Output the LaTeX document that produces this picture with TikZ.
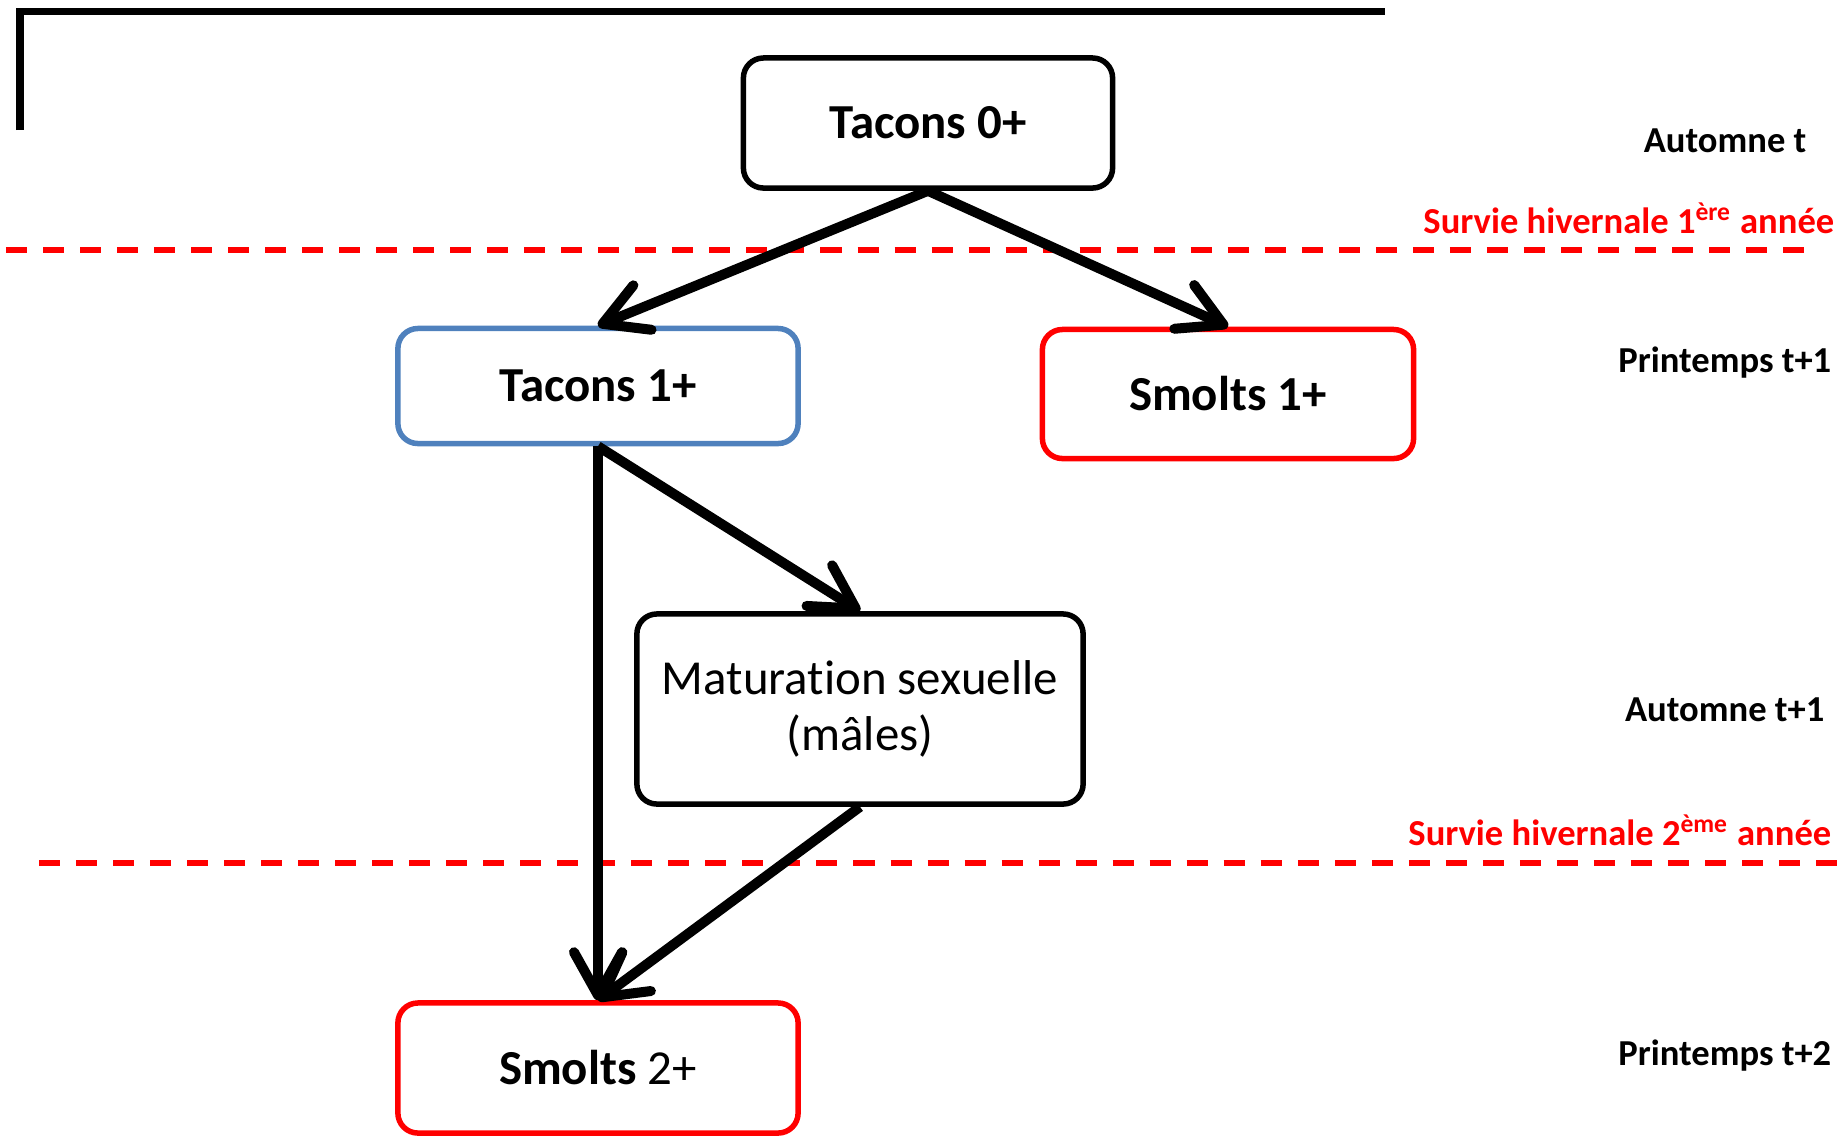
\documentclass[tikz,border=0pt]{standalone}
\usepackage{fontspec}
\setmainfont{Carlito}[Ligatures=NoCommon]
\usetikzlibrary{arrows.meta}
\definecolor{taconblue}{RGB}{79,129,189}
\definecolor{smoltred}{RGB}{255,0,0}

\begin{document}
\begin{tikzpicture}[
    x=0.01cm, y=-0.01cm,
    box/.style={draw, line width=0.055cm, rounded corners=0.2cm, align=center, inner sep=0pt, font=\fontsize{13.9}{16}\selectfont},
    flow/.style={line width=0.1cm, -{Straight Barb[length=4.3mm,width=4.8mm,round]}},
    limit/.style={smoltred, line width=0.06cm, dash pattern=on 0.21cm off 0.16cm},
    period/.style={anchor=base east, inner sep=0pt, font=\fontsize{10.4}{12}\selectfont\bfseries},
    winter/.style={period, text=smoltred}
    ]
    \useasboundingbox (0,0) rectangle (1841,1135);
    % cadre
    \draw[line width=0.07cm] (20,130) -- (20,11) -- (1385,11);
    % limites hivernales
    \draw[limit] (6,250) -- (1808,250);
    \draw[limit] (39,863) -- (1841,863);
    \node[winter] (w1) at (1835,233) {Survie hivernale 1\textsuperscript{ère} année};
    \node[winter] (w2) at (1832,845) {Survie hivernale 2\textsuperscript{ème} année};
    % saisons
    \node[period] (p0) at (1807,152) {Automne t};
    \node[period] (p1) at (1832,372) {Printemps t+1};
    \node[period] (p2) at (1825,721) {Automne t+1};
    \node[period] (p3) at (1832,1065) {Printemps t+2};
    % stades
    \node[box, minimum width=3.69cm, minimum height=1.30cm] (t0) at (928,123) {\textbf{Tacons 0+}};
    \node[box, draw=taconblue, minimum width=4.0cm, minimum height=1.15cm] (t1) at (598,386) {\textbf{Tacons 1+}};
    \node[box, draw=smoltred, minimum width=3.71cm, minimum height=1.29cm] (s1) at (1228,394) {\textbf{Smolts 1+}};
    \node[box, minimum width=4.46cm, minimum height=1.90cm] (mat) at (860,709) {Maturation sexuelle\\(mâles)};
    \node[box, draw=smoltred, minimum width=4.0cm, minimum height=1.30cm] (s2) at (598,1068) {\textbf{Smolts} 2+};
    % transitions
    \draw[flow] (t0.south) -- (t1.north);
    \draw[flow] (t0.south) -- (s1.north);
    \draw[flow] (t1.south) -- (mat.north);
    \draw[flow] (t1.south) -- (s2.north);
    \draw[flow] (mat.south) -- (s2.north);
\end{tikzpicture}
\end{document}
